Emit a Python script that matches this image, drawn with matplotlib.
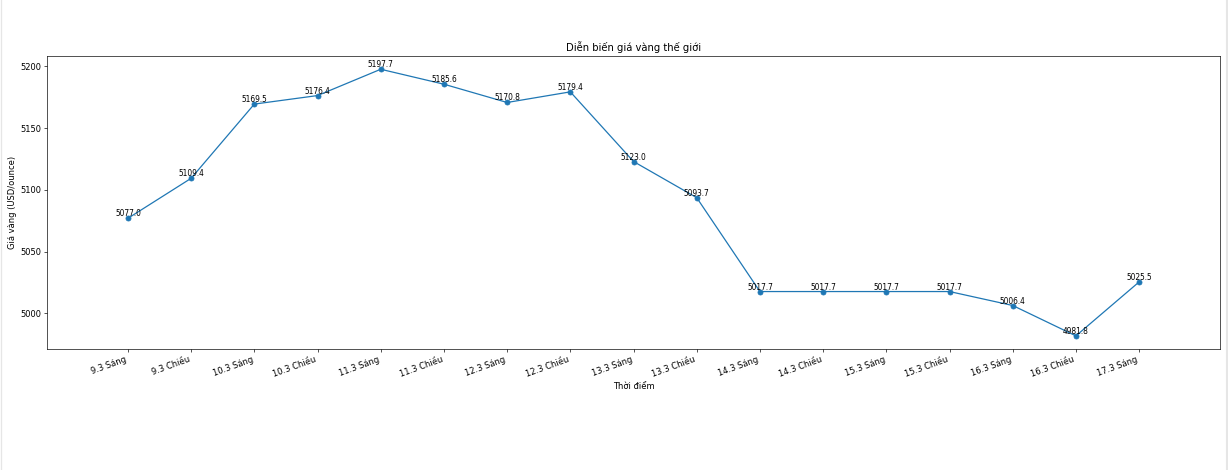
import matplotlib.pyplot as plt
from matplotlib.lines import Line2D

# Dữ liệu
thoi_diem = ["9.3 Sáng", "9.3 Chiều", "10.3 Sáng", "10.3 Chiều", "11.3 Sáng",
             "11.3 Chiều", "12.3 Sáng", "12.3 Chiều", "13.3 Sáng", "13.3 Chiều",
             "14.3 Sáng", "14.3 Chiều", "15.3 Sáng", "15.3 Chiều", "16.3 Sáng",
             "16.3 Chiều", "17.3 Sáng"]
gia_vang = [5077.0, 5109.4, 5169.5, 5176.4, 5197.7, 5185.6, 5170.8, 5179.4,
            5123.0, 5093.7, 5017.7, 5017.7, 5017.7, 5017.7, 5006.4, 4981.8,
            5025.5]

# hình gốc lớn hơn rồi thu nhỏ -> dùng dpi 60
fig, ax = plt.subplots(figsize=(1228 / 60, 470 / 60), dpi=60)
fig.subplots_adjust(left=0.0383, right=0.9935, top=0.881, bottom=0.257)

x = list(range(len(thoi_diem)))
ax.plot(x, gia_vang, marker="o", color="C0")

for xi, v in zip(x, gia_vang):
    ax.text(xi, v, f"{v:.1f}", ha="center", va="bottom", fontsize=9)

ax.set_xticks(x)
ax.set_xticklabels(thoi_diem, rotation=20, ha="right")
ax.margins(x=0.08)

ax.set_title("Diễn biến giá vàng thế giới")
ax.set_xlabel("Thời điểm")
ax.set_ylabel("Giá vàng (USD/ounce)")

# viền xám của ảnh chụp màn hình
fig.add_artist(Line2D([0.0008, 0.0008], [0, 1], transform=fig.transFigure, color="#e6e6e6", linewidth=1.5))
fig.add_artist(Line2D([0.9988, 0.9988], [0, 1], transform=fig.transFigure, color="#e6e6e6", linewidth=2.5))

fig.savefig("out.png", dpi=60)
